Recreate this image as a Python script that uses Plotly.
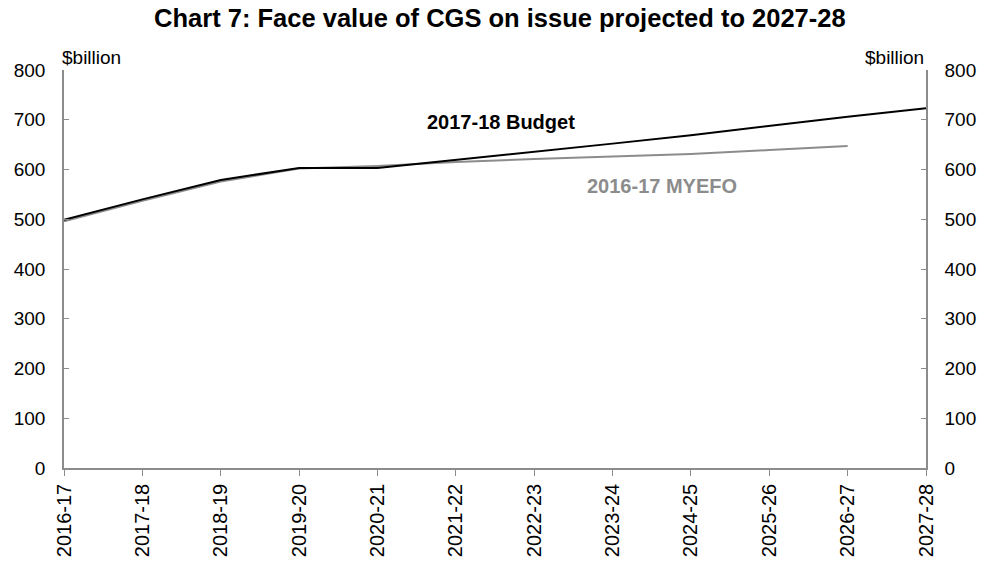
import plotly.graph_objects as go

years = ["2016-17", "2017-18", "2018-19", "2019-20", "2020-21", "2021-22",
         "2022-23", "2023-24", "2024-25", "2025-26", "2026-27", "2027-28"]
budget_2017_18 = [499, 540, 579, 603, 603, 619, 635, 652, 669, 688, 706, 723]
myefo_2016_17 = [496, 537, 576, 602, 607, 615, 621, 626, 631, 639, 647, None]
y_ticks = [0, 100, 200, 300, 400, 500, 600, 700, 800]

FONT = "Liberation Sans, Arial, sans-serif"
AXIS_COL = "#8c8c8c"

fig = go.Figure()
fig.add_trace(go.Scatter(x=years, y=myefo_2016_17, mode="lines",
                         line=dict(color="#8c8c8c", width=2), name="2016-17 MYEFO",
                         showlegend=False))
fig.add_trace(go.Scatter(x=years, y=budget_2017_18, mode="lines",
                         line=dict(color="#000000", width=2), name="2017-18 Budget",
                         showlegend=False))
# invisible trace to activate right axis
fig.add_trace(go.Scatter(x=years, y=budget_2017_18, yaxis="y2", mode="lines",
                         line=dict(width=0), opacity=0, hoverinfo="skip",
                         showlegend=False))

fig.update_layout(
    width=984, height=562,
    margin=dict(l=64, r=58, t=70, b=94, autoexpand=False),
    paper_bgcolor="white", plot_bgcolor="white",
    font=dict(family=FONT, size=19, color="black"),
    title=dict(text="<b>Chart 7: Face value of CGS on issue projected to 2027-28</b>",
               x=0.508, xanchor="center", y=0.968, yanchor="middle",
               yref="container", pad=dict(t=0, b=0),
               font=dict(family=FONT, size=25.5, color="black")),
    xaxis=dict(type="category", range=[0, 11], showline=True, linecolor=AXIS_COL,
               linewidth=1.5, ticks="outside", ticklen=6, tickcolor=AXIS_COL,
               tickangle=-90, showgrid=False, zeroline=False,
               tickfont=dict(family=FONT, size=20, color="black")),
    yaxis=dict(range=[0, 800], tickvals=y_ticks, showline=True, linecolor=AXIS_COL,
               linewidth=1.5, ticks="inside", ticklen=5, tickcolor=AXIS_COL,
               showgrid=False, zeroline=False, ticklabelstandoff=13,
               tickfont=dict(family=FONT, size=19, color="black")),
    yaxis2=dict(range=[0, 800], tickvals=y_ticks, overlaying="y", side="right",
                showline=True, linecolor=AXIS_COL, linewidth=1.5, ticks="inside",
                ticklen=5, tickcolor=AXIS_COL, showgrid=False, zeroline=False,
                ticklabelstandoff=13,
                tickfont=dict(family=FONT, size=19, color="black")),
)

fig.add_annotation(text="$billion", xref="paper", yref="paper", x=0, y=1.0,
                   xanchor="left", yanchor="bottom", showarrow=False, xshift=-4,
                   font=dict(family=FONT, size=19, color="black"))
fig.add_annotation(text="$billion", xref="paper", yref="paper", x=1, y=1.0,
                   xanchor="right", yanchor="bottom", showarrow=False,
                   font=dict(family=FONT, size=19, color="black"))
fig.add_annotation(text="<b>2017-18 Budget</b>", x=5.58, y=695, xref="x", yref="y",
                   xanchor="center", yanchor="middle", showarrow=False,
                   font=dict(family=FONT, size=20, color="black"))
fig.add_annotation(text="<b>2016-17 MYEFO</b>", x=7.63, y=567, xref="x", yref="y",
                   xanchor="center", yanchor="middle", showarrow=False,
                   font=dict(family=FONT, size=20, color="#8c8c8c"))

# remove the browser's default 8px body margin so the figure fills the window
fig.write_html("out.html", config={"displayModeBar": False},
               post_script="document.body.style.margin='0px';")
